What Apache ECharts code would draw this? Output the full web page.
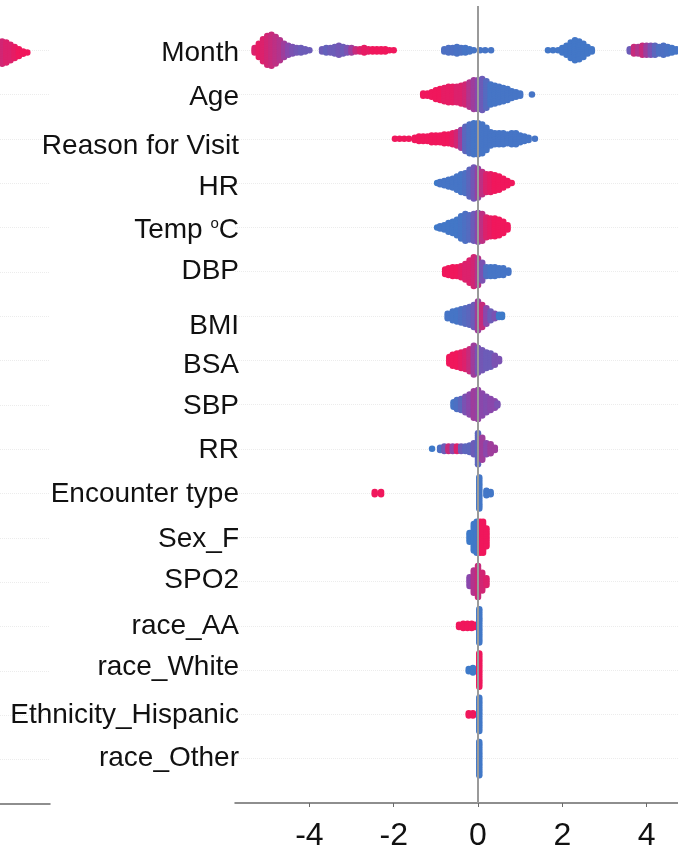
<!DOCTYPE html>
<html>
<head>
<meta charset="utf-8">
<script src="https://cdn.jsdelivr.net/npm/echarts@6/dist/echarts.min.js"></script>
<style>
  html, body { margin: 0; padding: 0; background: #fff; }
  #main { width: 678px; height: 848px; }
</style>
</head>
<body>
<div id="main"></div>
<script>
'use strict'
var features = ['Month', 'Age', 'Reason for Visit', 'HR', 'Temp oC', 'DBP', 'BMI', 'BSA', 'SBP', 'RR',
    'Encounter type', 'Sex_F', 'SPO2', 'race_AA', 'race_White', 'Ethnicity_Hispanic', 'race_Other'];
var xTicks = [-4, -2, 0, 2, 4];

// each bin: [shap value, dots stacked at that value, feature value 0=low(blue) 1=high(pink), -1 = missing]
var monthBins = [
    [-5.3, 3, 0.9], [-5.2, 7, 0.95], [-5.1, 11, 0.9], [-5.0, 14, 0.85], [-4.9, 15, 0.8], [-4.8, 13, 0.75],
    [-4.7, 10, 0.7], [-4.6, 7, 0.6], [-4.5, 5, 0.5], [-4.4, 4, 0.4], [-4.3, 3, 0.35], [-4.2, 3, 0.3],
    [-4.1, 2, 0.3], [-4.0, 1, 0.3],
    [-3.7, 2, 0.3], [-3.6, 3, 0.25], [-3.5, 3, 0.3], [-3.4, 4, 0.3], [-3.3, 5, 0.35], [-3.2, 4, 0.3],
    [-3.1, 3, 0.4], [-3.0, 3, 0.6], [-2.9, 2, 0.8], [-2.8, 2, 0.9], [-2.7, 3, 0.95], [-2.6, 2, 0.95],
    [-2.5, 2, 1], [-2.4, 2, 1], [-2.3, 2, 1], [-2.2, 2, 1], [-2.1, 1, 1], [-2.0, 1, 1],
    [-0.8, 2, 0.1], [-0.7, 3, 0.1], [-0.6, 3, 0.1], [-0.5, 4, 0.08], [-0.4, 3, 0.08], [-0.3, 3, 0.05],
    [-0.2, 2, 0.05], [-0.1, 1, 0.05], [0.05, 1, 0.05], [0.17, 1, 0.05], [0.31, 1, 0.05],
    [1.66, 1, 0.03], [1.78, 1, 0.03], [1.9, 1, 0.03], [2.0, 3, 0.03], [2.1, 5, 0.03], [2.2, 8, 0.03],
    [2.3, 10, 0.03], [2.4, 9, 0.03], [2.5, 7, 0.03], [2.6, 4, 0.03], [2.7, 2, 0.03],
    [3.6, 2, 0.3], [3.7, 4, 0.8], [3.8, 4, 0.7], [3.9, 5, 0.8], [4.0, 5, 0.6], [4.1, 5, 0.4],
    [4.2, 5, 0.2], [4.3, 4, 0.1], [4.4, 5, 0.1], [4.5, 4, 0.08], [4.6, 3, 0.05], [4.7, 2, 0.05]
];
var ageBins = [
    [-1.3, 2, 1], [-1.2, 2, 1], [-1.1, 3, 1], [-1.0, 5, 1], [-0.9, 6, 1], [-0.8, 7, 0.95], [-0.7, 8, 0.95],
    [-0.6, 8, 0.95], [-0.5, 8, 0.9], [-0.4, 9, 0.9], [-0.3, 10, 0.85], [-0.2, 12, 0.7], [-0.1, 14, 0.6],
    [0.0, 14, 0.5], [0.1, 15, 0.3], [0.2, 13, 0.15], [0.3, 10, 0.05], [0.4, 9, 0.05], [0.5, 8, 0.05],
    [0.6, 7, 0.05], [0.7, 6, 0.05], [0.8, 4, 0.05], [0.9, 3, 0.05], [1.0, 2, 0.05], [1.28, 1, 0.05]
];
var reasonBins = [
    [-1.97, 1, 1], [-1.86, 1, 1], [-1.75, 1, 1], [-1.64, 1, 1], [-1.5, 2, 1], [-1.4, 3, 1], [-1.3, 3, 1],
    [-1.2, 3, 1], [-1.1, 4, 1], [-1.0, 4, 1], [-0.9, 4, 1], [-0.8, 5, 1], [-0.7, 5, 1], [-0.6, 6, 0.95],
    [-0.5, 7, 0.85], [-0.4, 9, 0.6], [-0.3, 12, 0.2], [-0.2, 14, 0.1], [-0.1, 15, 0.05], [0.0, 15, 0.05],
    [0.1, 14, 0.05], [0.2, 11, 0.05], [0.3, 7, 0.05], [0.4, 6, 0.05], [0.5, 6, 0.05], [0.6, 6, 0.05],
    [0.7, 5, 0.05], [0.8, 6, 0.05], [0.9, 6, 0.05], [1.0, 4, 0.05], [1.1, 3, 0.05], [1.2, 2, 0.05], [1.35, 1, 0.05]
];
var hrBins = [
    [-0.97, 1, 0], [-0.9, 2, 0.05], [-0.8, 3, 0.05], [-0.7, 4, 0.05], [-0.6, 5, 0.05], [-0.5, 7, 0.05],
    [-0.4, 9, 0.05], [-0.3, 10, 0.1], [-0.2, 13, 0.2], [-0.1, 15, 0.35], [0.0, 14, 0.55], [0.1, 11, 0.75],
    [0.2, 9, 0.9], [0.3, 9, 0.95], [0.4, 8, 1], [0.5, 7, 1], [0.6, 5, 1], [0.7, 3, 1], [0.8, 1, 1]
];
var tempBins = [
    [-0.97, 1, 0], [-0.9, 2, 0.03], [-0.8, 3, 0.03], [-0.7, 5, 0.03], [-0.6, 6, 0.03], [-0.5, 8, 0.03],
    [-0.4, 11, 0.05], [-0.3, 13, 0.1], [-0.2, 12, 0.15], [-0.1, 13, 0.3], [0.0, 14, 0.5], [0.1, 13, 0.75],
    [0.2, 10, 0.9], [0.3, 9, 0.95], [0.4, 9, 1], [0.5, 8, 1], [0.6, 6, 1], [0.7, 3, 1]
];
var dbpBins = [
    [-0.78, 3, 1], [-0.7, 4, 1], [-0.6, 5, 1], [-0.5, 5, 1], [-0.4, 6, 0.95], [-0.3, 8, 0.9], [-0.2, 11, 0.9],
    [-0.1, 14, 0.85], [0.0, 13, 0.7], [0.1, 9, 0.4], [0.2, 5, 0.1], [0.3, 5, 0.05], [0.4, 5, 0.05],
    [0.5, 4, 0.05], [0.6, 4, 0.05], [0.72, 2, 0.05]
];
var bmiBins = [
    [-0.72, 3, 0.05], [-0.6, 5, 0.05], [-0.5, 6, 0.05], [-0.4, 7, 0.1], [-0.3, 8, 0.15], [-0.2, 9, 0.2],
    [-0.1, 11, 0.3], [0.0, 14, 0.6], [0.1, 11, 0.8], [0.2, 8, 0.5], [0.3, 5, 0.3], [0.4, 3, 0.4],
    [0.5, 2, -1], [0.57, 2, -1]
];
var bsaBins = [
    [-0.68, 4, 1], [-0.6, 6, 1], [-0.5, 7, 1], [-0.4, 8, 0.95], [-0.3, 9, 0.9], [-0.2, 11, 0.8],
    [-0.1, 14, 0.6], [0.0, 12, 0.4], [0.1, 10, 0.35], [0.2, 8, 0.3], [0.3, 7, 0.3], [0.4, 5, 0.4], [0.5, 2, 0.4]
];
var sbpBins = [
    [-0.58, 3, 0.05], [-0.5, 5, 0.1], [-0.4, 6, 0.2], [-0.3, 8, 0.4], [-0.2, 10, 0.5], [-0.1, 13, 0.6],
    [0.0, 14, 0.55], [0.1, 11, 0.5], [0.2, 8, 0.45], [0.3, 6, 0.5], [0.4, 4, 0.5], [0.46, 2, 0.4]
];
var rrBins = [
    [-1.09, 1, 0], [-0.9, 2, 0.1], [-0.8, 3, 0.3], [-0.7, 3, 0.8], [-0.6, 3, 0.5], [-0.5, 3, 0.9],
    [-0.4, 3, 0.3], [-0.3, 3, 0.2], [-0.2, 4, 0.2], [-0.1, 6, 0.3], [0.0, 15, 0.2], [0.1, 11, 0.6],
    [0.2, 6, 0.5], [0.3, 5, 0.6], [0.4, 2, 0.6]
];
var encounterBins = [
    [-2.45, 2, 1], [-2.3, 2, 1], [0.03, 15, 0.03], [0.2, 3, 0.03], [0.3, 2, 0.03]
];
var sexBins = [
    [-0.2, 5, 0], [-0.1, 13, 0], [-0.03, 15, 0.02], [0.05, 15, 1], [0.12, 15, 1], [0.2, 9, 1]
];
var spo2Bins = [
    [-0.2, 5, 0.5], [-0.1, 11, 0.7], [0.0, 15, 0.8], [0.1, 9, 0.85], [0.2, 4, 0.9]
];
var raceAABins = [
    [-0.45, 2, 1], [-0.35, 3, 1], [-0.25, 3, 1], [-0.15, 3, 1], [-0.07, 2, 1], [0.03, 16, 0.02]
];
var raceWhiteBins = [
    [-0.22, 2, 0], [-0.12, 3, 0], [0.03, 16, 1]
];
var hispanicBins = [
    [-0.22, 2, 1], [-0.12, 2, 1], [0.03, 16, 0.02]
];
var raceOtherBins = [
    [0.03, 16, 0.02]
];
// edge of the neighbouring panel, cut off on the left
var sideBins = [
    [3.5, 11, 0.8], [3.6, 11, 0.85], [3.7, 10, 0.9], [3.8, 8, 0.9], [3.9, 6, 0.95],
    [4.0, 4, 1], [4.1, 2, 1], [4.2, 1, 1]
];

var allBins = [monthBins, ageBins, reasonBins, hrBins, tempBins, dbpBins, bmiBins, bsaBins, sbpBins, rrBins,
    encounterBins, sexBins, spo2Bins, raceAABins, raceWhiteBins, hispanicBins, raceOtherBins];

// small nudges (px) so each name sits where it sits in the figure
var labelShift = [3, 3, 7, 4, 3, 0, 10, 5, 2, 2, 1, 2, -1, 0, -3, 1, 0];

var STEP = 0.05; // vertical spacing of stacked dots, in row units

function swarm(bins, row) {
    var pts = [];
    bins.forEach(function (b) {
        for (var j = 0; j < b[1]; j++) {
            pts.push([b[0], row + (j - (b[1] - 1) / 2) * STEP, b[2]]);
        }
    });
    return pts;
}

var mainPts = [];
allBins.forEach(function (bins, i) {
    mainPts = mainPts.concat(swarm(bins, i));
});
var sidePts = swarm(sideBins, 0.05);

var labelRich = {};
labelShift.forEach(function (s, i) {
    labelRich['r' + i] = {
        fontSize: 28, color: '#111',
        padding: s >= 0 ? [2 * s, 0, 0, 0] : [0, 0, -2 * s, 0]
    };
    labelRich['s' + i] = {
        fontSize: 15, color: '#111', verticalAlign: 'top',
        padding: s >= 0 ? [2 * s, 0, 12, 0] : [0, 0, 12 - 2 * s, 0]
    };
});

// first and last split lines (outside the rows) are hidden
var splitColors = [];
for (var k = -1; k <= 17; k++) splitColors.push(k < 0 || k > 16 ? 'rgba(0,0,0,0)' : '#ececec');

var chart = echarts.init(document.getElementById('main'));
chart.setOption({
    animation: false,
    backgroundColor: '#fff',
    textStyle: { fontFamily: 'Liberation Sans, Arial, sans-serif' },
    grid: [
        { left: 235, right: 0, top: 6, bottom: 45, outerBoundsMode: 'none' },
        { left: 0, width: 50, top: 6, bottom: 44, outerBoundsMode: 'none' }
    ],
    visualMap: {
        show: false,
        type: 'continuous',
        dimension: 2,
        min: 0,
        max: 1,
        seriesIndex: [0, 1],
        inRange: { color: ['#3e7ac9', '#8a48ac', '#f0175c'] },
        outOfRange: { color: '#7d7d7d' }
    },
    xAxis: [
        {
            type: 'value',
            min: -5.765,
            max: 4.745,
            interval: 2,
            axisLine: { show: true, onZero: false, lineStyle: { color: '#6a6a6a', width: 1.5 } },
            axisTick: { show: true, length: 4, customValues: xTicks, lineStyle: { color: '#6a6a6a' } },
            splitLine: { show: false },
            axisLabel: {
                fontSize: 32,
                color: '#111',
                margin: 17,
                customValues: xTicks,
                formatter: function (v) { return xTicks.indexOf(v) >= 0 ? String(v) : ''; }
            }
        },
        {
            type: 'value',
            gridIndex: 1,
            min: 3.55,
            max: 4.74,
            axisLine: { show: true, onZero: false, lineStyle: { color: '#6a6a6a', width: 1.5 } },
            axisTick: { show: false },
            axisLabel: { show: false },
            splitLine: { show: false }
        }
    ],
    yAxis: [
        {
            type: 'value',
            inverse: true,
            min: -1,
            max: 17,
            interval: 1,
            axisLine: { show: false },
            axisTick: { show: false },
            splitLine: { show: true, lineStyle: { color: splitColors, type: 'dotted' } },
            axisLabel: {
                margin: -4,
                fontSize: 28,
                color: '#111',
                formatter: function (v) {
                    var name = features[v];
                    if (!name) return '';
                    if (name === 'Temp oC') return '{r' + v + '|Temp }{s' + v + '|o}{r' + v + '|C}';
                    return '{r' + v + '|' + name + '}';
                },
                rich: labelRich
            }
        },
        {
            type: 'value',
            gridIndex: 1,
            inverse: true,
            min: -1,
            max: 17,
            interval: 1,
            axisLine: { show: false },
            axisTick: { show: false },
            axisLabel: { show: false },
            splitLine: { show: true, lineStyle: { color: splitColors, type: 'dotted' } }
        }
    ],
    series: [
        {
            type: 'scatter',
            symbolSize: 6.5,
            data: mainPts,
            itemStyle: { opacity: 1 },
            markLine: {
                silent: true,
                symbol: 'none',
                label: { show: false },
                lineStyle: { color: '#9a9a9a', width: 2, type: 'solid' },
                data: [{ xAxis: 0 }]
            }
        },
        {
            type: 'scatter',
            xAxisIndex: 1,
            yAxisIndex: 1,
            symbolSize: 6.5,
            data: sidePts,
            itemStyle: { opacity: 1 }
        }
    ]
});
</script>
</body>
</html>
